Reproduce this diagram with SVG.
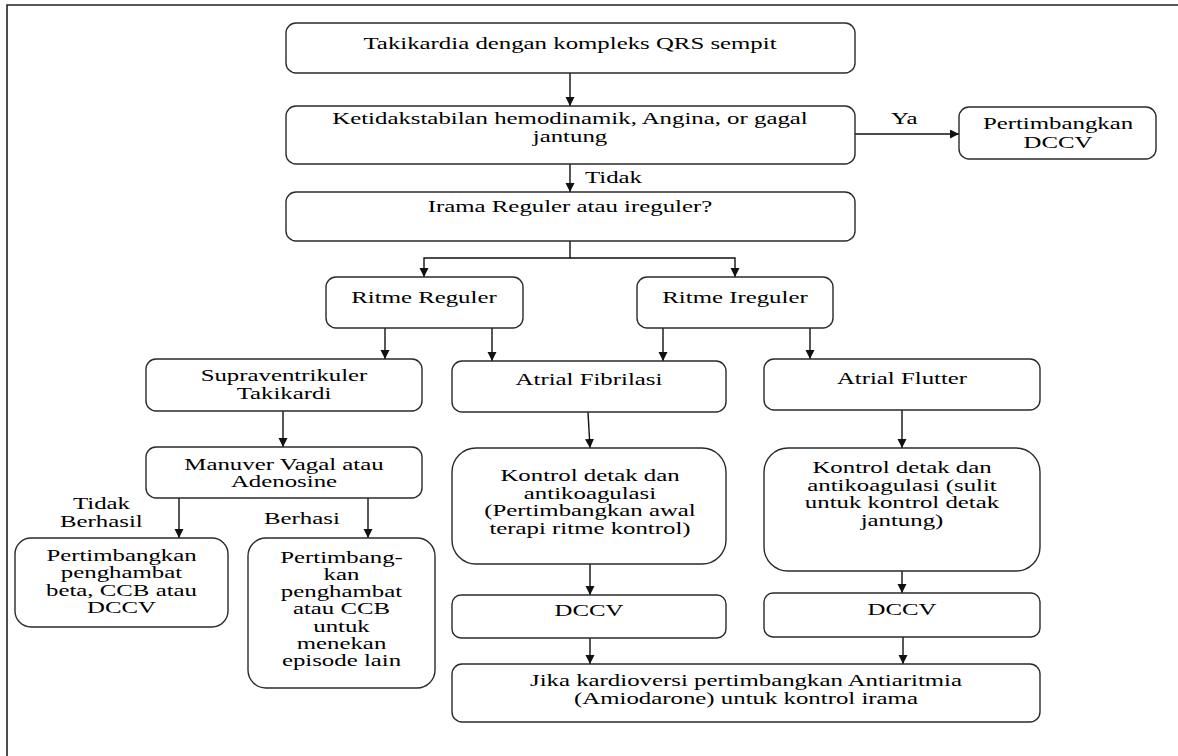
<svg xmlns="http://www.w3.org/2000/svg" width="1178" height="756" viewBox="0 0 1178 756" font-family="'Liberation Serif', 'DejaVu Serif', serif">
<defs>
<style>
.box{fill:#fff;stroke:#2a2a2a;stroke-width:1.4}
.t{font-family:'Liberation Serif','DejaVu Serif',serif;font-size:17px;fill:#000;text-anchor:middle}
.l{font-family:'Liberation Serif','DejaVu Serif',serif;font-size:17px;fill:#000;text-anchor:start}
.c{fill:none;stroke:#111;stroke-width:1.4}
.frame{fill:none;stroke:#222;stroke-width:1.6}
</style>
<marker id="ah" markerUnits="userSpaceOnUse" markerWidth="10" markerHeight="10" refX="9" refY="4.5" orient="auto">
<path d="M0,0 L9,4.5 L0,9 z" fill="#111"/>
</marker>
</defs>
<rect width="1178" height="756" fill="#fff"/>
<path class="frame" d="M7,756 L7,5 L1178,5"/>

<g id="connectors">
<path class="c" d="M570,73 V106" marker-end="url(#ah)"/>
<path class="c" d="M855,134 H959" marker-end="url(#ah)"/>
<path class="c" d="M570,164 V192" marker-end="url(#ah)"/>
<path class="c" d="M570,241 V258 H424 V277" marker-end="url(#ah)"/>
<path class="c" d="M570,258 H735 V277" marker-end="url(#ah)"/>
<path class="c" d="M385,328 V359" marker-end="url(#ah)"/>
<path class="c" d="M492,328 V361" marker-end="url(#ah)"/>
<path class="c" d="M663,328 V361" marker-end="url(#ah)"/>
<path class="c" d="M810,328 V359" marker-end="url(#ah)"/>
<path class="c" d="M283,411 V447" marker-end="url(#ah)"/>
<path class="c" d="M588,412 L590,448" marker-end="url(#ah)"/>
<path class="c" d="M902,410 V448" marker-end="url(#ah)"/>
<path class="c" d="M179,498 V538" marker-end="url(#ah)"/>
<path class="c" d="M368,498 V538" marker-end="url(#ah)"/>
<path class="c" d="M590,564 V595" marker-end="url(#ah)"/>
<path class="c" d="M902,571 V593" marker-end="url(#ah)"/>
<path class="c" d="M590,638 V664" marker-end="url(#ah)"/>
<path class="c" d="M903,637 V664" marker-end="url(#ah)"/>
<text class="l" transform="translate(891,123.5) scale(1.46,1)">Ya</text>
<text class="l" transform="translate(585,182.5) scale(1.46,1)">Tidak</text>
<text class="l" transform="translate(73,508.5) scale(1.46,1)">Tidak</text>
<text class="l" transform="translate(60,526.5) scale(1.46,1)">Berhasil</text>
<text class="l" transform="translate(264,523.5) scale(1.46,1)">Berhasi</text>
</g>

<g id="n1">
<rect class="box" x="286" y="23" width="569" height="50" rx="10"/>
<text class="t" transform="translate(570,48.5) scale(1.46,1)">Takikardia dengan kompleks QRS sempit</text>
</g>
<g id="n2">
<rect class="box" x="286" y="106" width="569" height="58" rx="10"/>
<text class="t" transform="translate(570,123.5) scale(1.46,1)">Ketidakstabilan hemodinamik, Angina, or gagal</text>
<text class="t" transform="translate(570,142) scale(1.46,1)">jantung</text>
</g>
<g id="n3">
<rect class="box" x="959" y="107" width="197" height="52" rx="10"/>
<text class="t" transform="translate(1058,128.5) scale(1.46,1)">Pertimbangkan</text>
<text class="t" transform="translate(1058,147.5) scale(1.46,1)">DCCV</text>
</g>
<g id="n4">
<rect class="box" x="286" y="192" width="569" height="49" rx="10"/>
<text class="t" transform="translate(570,212) scale(1.46,1)">Irama Reguler atau ireguler?</text>
</g>
<g id="n5">
<rect class="box" x="326" y="277" width="197" height="51" rx="10"/>
<text class="t" transform="translate(424,302.5) scale(1.46,1)">Ritme Reguler</text>
</g>
<g id="n6">
<rect class="box" x="637" y="277" width="196" height="51" rx="10"/>
<text class="t" transform="translate(735,302.5) scale(1.46,1)">Ritme Ireguler</text>
</g>
<g id="n7">
<rect class="box" x="146" y="359" width="276" height="52" rx="10"/>
<text class="t" transform="translate(284,380.5) scale(1.46,1)">Supraventrikuler</text>
<text class="t" transform="translate(284,398.5) scale(1.46,1)">Takikardi</text>
</g>
<g id="n8">
<rect class="box" x="452" y="361" width="274" height="51" rx="10"/>
<text class="t" transform="translate(589,384.5) scale(1.46,1)">Atrial Fibrilasi</text>
</g>
<g id="n9">
<rect class="box" x="764" y="359" width="276" height="51" rx="10"/>
<text class="t" transform="translate(902,383.5) scale(1.46,1)">Atrial Flutter</text>
</g>
<g id="n10">
<rect class="box" x="146" y="447" width="276" height="51" rx="10"/>
<text class="t" transform="translate(284,469.5) scale(1.46,1)">Manuver Vagal atau</text>
<text class="t" transform="translate(284,486.5) scale(1.46,1)">Adenosine</text>
</g>
<g id="n11">
<rect class="box" x="452" y="448" width="274" height="116" rx="24"/>
<text class="t" transform="translate(590,480.5) scale(1.46,1)">Kontrol detak dan</text>
<text class="t" transform="translate(590,498.5) scale(1.46,1)">antikoagulasi</text>
<text class="t" transform="translate(590,516) scale(1.46,1)">(Pertimbangkan awal</text>
<text class="t" transform="translate(590,533.5) scale(1.46,1)">terapi ritme kontrol)</text>
</g>
<g id="n12">
<rect class="box" x="764" y="448" width="276" height="123" rx="24"/>
<text class="t" transform="translate(902,472.5) scale(1.46,1)">Kontrol detak dan</text>
<text class="t" transform="translate(902,490.5) scale(1.46,1)">antikoagulasi (sulit</text>
<text class="t" transform="translate(902,507.5) scale(1.46,1)">untuk kontrol detak</text>
<text class="t" transform="translate(902,525.5) scale(1.46,1)">jantung)</text>
</g>
<g id="n13">
<rect class="box" x="15" y="538" width="213" height="89" rx="16"/>
<text class="t" transform="translate(121.5,560.5) scale(1.46,1)">Pertimbangkan</text>
<text class="t" transform="translate(121.5,578) scale(1.46,1)">penghambat</text>
<text class="t" transform="translate(121.5,595.5) scale(1.46,1)">beta, CCB atau</text>
<text class="t" transform="translate(121.5,612.5) scale(1.46,1)">DCCV</text>
</g>
<g id="n14">
<rect class="box" x="248" y="538" width="187" height="150" rx="18"/>
<text class="t" transform="translate(341.5,562.5) scale(1.46,1)">Pertimbang-</text>
<text class="t" transform="translate(341.5,579.8) scale(1.46,1)">kan</text>
<text class="t" transform="translate(341.5,597.1) scale(1.46,1)">penghambat</text>
<text class="t" transform="translate(341.5,614.4) scale(1.46,1)">atau CCB</text>
<text class="t" transform="translate(341.5,631.7) scale(1.46,1)">untuk</text>
<text class="t" transform="translate(341.5,649) scale(1.46,1)">menekan</text>
<text class="t" transform="translate(341.5,666.3) scale(1.46,1)">episode lain</text>
</g>
<g id="n15">
<rect class="box" x="452" y="595" width="274" height="43" rx="9"/>
<text class="t" transform="translate(589,615.5) scale(1.46,1)">DCCV</text>
</g>
<g id="n16">
<rect class="box" x="764" y="593" width="276" height="44" rx="9"/>
<text class="t" transform="translate(902,614.5) scale(1.46,1)">DCCV</text>
</g>
<g id="n17">
<rect class="box" x="452" y="664" width="588" height="58" rx="10"/>
<text class="t" transform="translate(746,685.5) scale(1.46,1)">Jika kardioversi pertimbangkan Antiaritmia</text>
<text class="t" transform="translate(746,703.5) scale(1.46,1)">(Amiodarone) untuk kontrol irama</text>
</g>
</svg>
